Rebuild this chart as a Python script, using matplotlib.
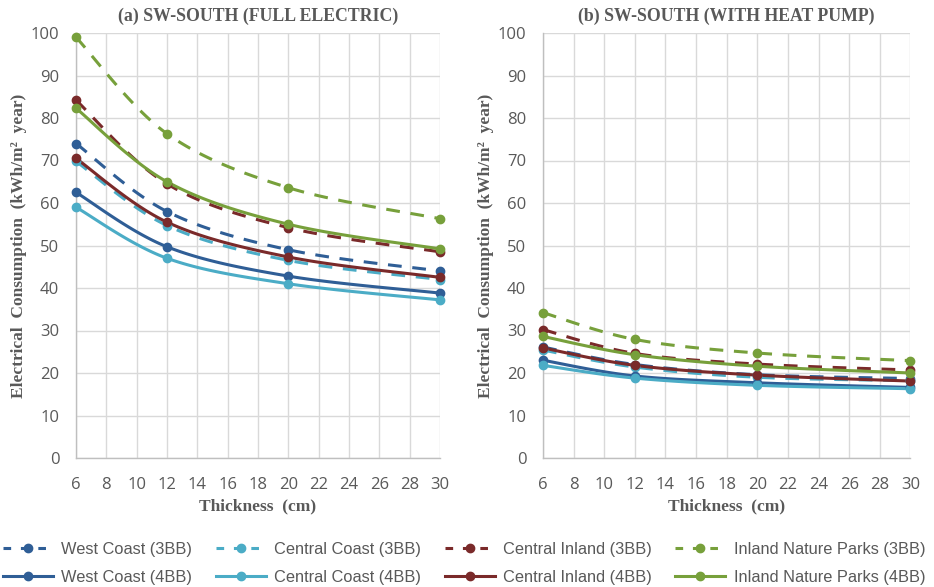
import numpy as np
import matplotlib
matplotlib.use("Agg")
import matplotlib.pyplot as plt
from matplotlib.lines import Line2D

thickness = [6, 12, 20, 30]

series_names = ["West Coast (3BB)", "Central Coast (3BB)", "Central Inland (3BB)", "Inland Nature Parks (3BB)",
                "West Coast (4BB)", "Central Coast (4BB)", "Central Inland (4BB)", "Inland Nature Parks (4BB)"]

# (a) Full electric
full_wc3 = [74.0, 58.0, 49.0, 44.0]
full_cc3 = [69.8, 54.7, 46.5, 42.0]
full_ci3 = [84.2, 64.5, 54.2, 48.5]
full_inp3 = [99.0, 76.3, 63.6, 56.3]
full_wc4 = [62.5, 49.7, 42.8, 38.8]
full_cc4 = [59.0, 47.0, 41.0, 37.2]
full_ci4 = [70.5, 55.5, 47.3, 42.5]
full_inp4 = [82.3, 65.0, 55.0, 49.2]

# (b) With heat pump
hp_wc3 = [26.1, 22.0, 19.6, 18.7]
hp_cc3 = [25.4, 21.4, 19.0, 18.2]
hp_ci3 = [30.2, 24.6, 22.1, 20.7]
hp_inp3 = [34.2, 27.9, 24.7, 22.9]
hp_wc4 = [23.0, 19.3, 17.7, 16.6]
hp_cc4 = [21.8, 18.8, 17.1, 16.3]
hp_ci4 = [25.9, 21.8, 19.5, 18.1]
hp_inp4 = [28.6, 24.3, 21.6, 20.0]

colors = ["#2F5E96", "#4BACC6", "#7A2A2A", "#77A03B"] * 2
styles = ["--"] * 4 + ["-"] * 4

full_data = [full_wc3, full_cc3, full_ci3, full_inp3, full_wc4, full_cc4, full_ci4, full_inp4]
hp_data = [hp_wc3, hp_cc3, hp_ci3, hp_inp3, hp_wc4, hp_cc4, hp_ci4, hp_inp4]


def smooth(x, y, n=40):
    # Catmull-Rom style Bezier smoothing (like Excel smoothed lines)
    x = np.asarray(x, float)
    y = np.asarray(y, float)
    px = np.concatenate([[x[0]], x, [x[-1]]])
    py = np.concatenate([[y[0]], y, [y[-1]]])
    xs, ys = [], []
    t = np.linspace(0, 1, n)
    for i in range(1, len(px) - 2):
        p0 = np.array([px[i], py[i]])
        p3 = np.array([px[i + 1], py[i + 1]])
        c1 = p0 + (np.array([px[i + 1], py[i + 1]]) - np.array([px[i - 1], py[i - 1]])) / 6.0
        c2 = p3 - (np.array([px[i + 2], py[i + 2]]) - np.array([px[i], py[i]])) / 6.0
        b = ((1 - t) ** 3)[:, None] * p0 + (3 * (1 - t) ** 2 * t)[:, None] * c1 + \
            (3 * (1 - t) * t ** 2)[:, None] * c2 + (t ** 3)[:, None] * p3
        xs.append(b[:, 0]); ys.append(b[:, 1])
    return np.concatenate(xs), np.concatenate(ys)


fig = plt.figure(figsize=(9.34, 5.87), dpi=100)
serif = "Liberation Serif"
sans = ["Open Sans", "DejaVu Sans"]
gray = "#595959"

axes = [fig.add_axes([76 / 934, 1 - 458 / 587, 364 / 934, 425 / 587]),
        fig.add_axes([543 / 934, 1 - 458 / 587, 367.5 / 934, 425 / 587])]
titles = ["(a) SW-SOUTH (FULL ELECTRIC)", "(b) SW-SOUTH (WITH HEAT PUMP)"]

for ax, data, title in zip(axes, [full_data, hp_data], titles):
    for vals, c, ls in zip(data, colors, styles):
        sx, sy = smooth(thickness, vals)
        if ls == "--":
            ax.plot(sx, sy, color=c, lw=2.2, dashes=(4.5, 3.5), zorder=3)
        else:
            ax.plot(sx, sy, color=c, lw=2.2, zorder=3)
        ax.plot(thickness, vals, "o", color=c, ms=6, zorder=4, clip_on=False)
    ax.set_xlim(6, 30)
    ax.set_ylim(0, 100)
    ax.set_xticks(range(6, 31, 2))
    ax.set_yticks(range(0, 101, 10))
    ax.grid(True, color="#D9D9D9", lw=1)
    ax.set_axisbelow(True)
    for s in ["top", "right"]:
        ax.spines[s].set_visible(False)
    for s in ["left", "bottom"]:
        ax.spines[s].set_color("#BFBFBF")
        ax.spines[s].set_linewidth(1)
    ax.tick_params(length=0, labelsize=12, labelcolor=gray)
    ax.tick_params(axis="x", pad=13.5)
    ax.tick_params(axis="y", pad=12)
    for lab in ax.get_xticklabels() + ax.get_yticklabels():
        lab.set_fontfamily(sans)
    ax.set_title(title, fontfamily=serif, fontweight="bold", fontsize=12.8, color=gray, pad=9)
    ax.set_xlabel("Thickness  (cm)", fontfamily=serif, fontweight="bold", fontsize=12.5, color=gray, labelpad=4)
    ax.set_ylabel("Electrical  Consumption  (kWh/m²  year)", fontfamily=serif, fontweight="bold",
                  fontsize=12.5, color=gray, labelpad=3)

handles = []
for name, c, ls in zip(series_names, colors, styles):
    if ls == "--":
        h = Line2D([], [], color=c, lw=2.2, dashes=(2.5, 3.2), marker="o", ms=6)
    else:
        h = Line2D([], [], color=c, lw=2.2, marker="o", ms=6)
    handles.append(h)
order = [0, 4, 1, 5, 2, 6, 3, 7]
fig.legend([handles[i] for i in order], [series_names[i] for i in order], ncol=4,
           loc="lower left", bbox_to_anchor=(3 / 934, 2 / 587), frameon=False,
           borderaxespad=0, borderpad=0,
           prop={"family": ["Liberation Sans", "DejaVu Sans"], "size": 11.8},
           labelcolor=gray, handlelength=3.05, columnspacing=1.45, handletextpad=0.5,
           labelspacing=0.8)

fig.savefig("out.png", dpi=100)
